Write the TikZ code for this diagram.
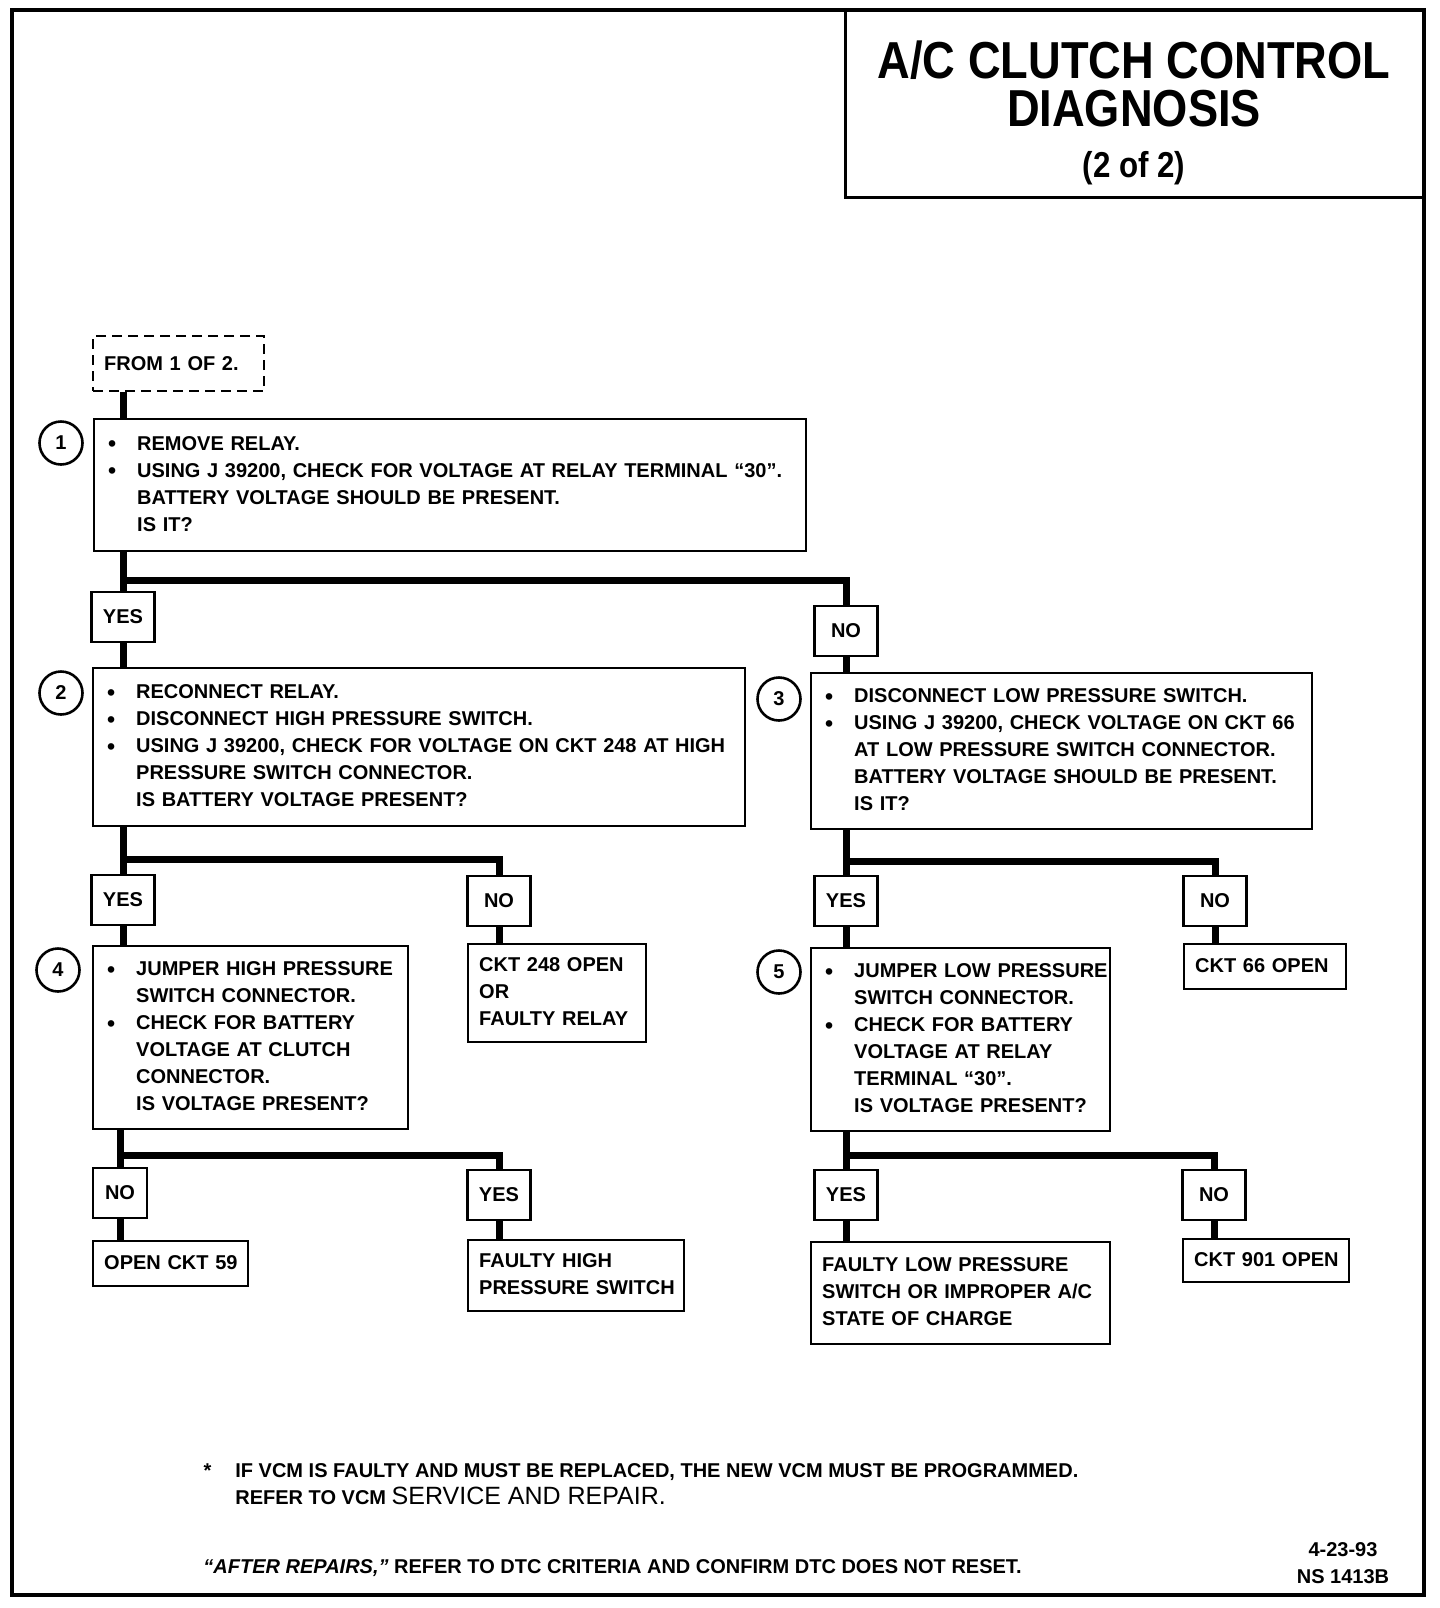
\documentclass[tikz,border=0pt]{standalone}
\usepackage{fontspec}
\setmainfont{Liberation Sans}
\newfontfamily\condfont{Liberation Sans}[FakeStretch=0.87]
\setlength{\parindent}{0pt}

\newcommand{\bodyfont}{\fontsize{10}{13.5}\selectfont\bfseries}
\newcommand{\titlefont}{\fontsize{26}{24}\selectfont\condfont\bfseries}
\newcommand{\subtitlefont}{\fontsize{18}{24}\selectfont\condfont\bfseries}
% lines of a step box, indented past the bullets
\newcommand{\steplines}[1]{\begin{tabular}{@{\hspace{21.5pt}}l@{}}#1\end{tabular}}
\newcommand{\resultlines}[1]{\begin{tabular}{@{}l@{}}#1\end{tabular}}
\newcommand{\bull}{\llap{\raisebox{-0.8pt}{\fontsize{11.5}{11.5}\selectfont\textbullet}\hspace{10.5pt}}}

\tikzset{
  frame/.style={line width=2.2pt},
  titleline/.style={line width=1.5pt},
  stepbox/.style={draw, line width=1.2pt, anchor=north west, inner xsep=0pt, inner ysep=0pt, align=left, font=\bodyfont},
  resultbox/.style={draw, line width=1.2pt, anchor=north west, inner xsep=5.5pt, inner ysep=0pt, align=left, font=\bodyfont},
  answer/.style={draw, line width=1.2pt, minimum width=31.5pt, minimum height=25pt, inner sep=0pt, font=\bodyfont},
  stepnum/.style={circle, draw, line width=1.3pt, minimum size=21.5pt, inner sep=0pt, font=\bodyfont},
  link/.style={line width=3.5pt},
}

\begin{document}
\begin{tikzpicture}[x=0.5pt, y=-0.5pt]
        \useasboundingbox (0,0) rectangle (1440,1608);

        % Frame and title
        \draw[frame] (12,10) rectangle (1424,1595);
        \draw[titleline] (845,10) -- (845,197) -- (1424,197);
        \node at (1134,113) (title) [font=\titlefont, align=center] {A/C CLUTCH CONTROL\\DIAGNOSIS\\[1.5pt]{\subtitlefont (2 of 2)}};

        % Entry
        \node at (92,335) (from) [resultbox, dash pattern=on 5pt off 3pt, text width=74.5pt, minimum height=27.5pt] {FROM 1 OF 2.};

        % Step 1
        \node at (93,418) (S1) [stepbox, text width=356pt, minimum height=66pt] {\steplines{%
          \bull REMOVE RELAY.\\
          \bull USING J 39200, CHECK FOR VOLTAGE AT RELAY TERMINAL “30”.\\
          BATTERY VOLTAGE SHOULD BE PRESENT.\\
          IS IT?}};
        \node at (61,443) (C1) [stepnum] {1};

        \node at (123,617) (Y1) [answer] {YES};
        \node at (846,631) (N1) [answer] {NO};

        % Step 2
        \node at (92,667) (S2) [stepbox, text width=326pt, minimum height=79pt] {\steplines{%
          \bull RECONNECT RELAY.\\
          \bull DISCONNECT HIGH PRESSURE SWITCH.\\
          \bull USING J 39200, CHECK FOR VOLTAGE ON CKT 248 AT HIGH\\
          PRESSURE SWITCH CONNECTOR.\\
          IS BATTERY VOLTAGE PRESENT?}};
        \node at (61,693) (C2) [stepnum] {2};

        % Step 3
        \node at (810,672) (S3) [stepbox, text width=250.5pt, minimum height=78pt] {\steplines{%
          \bull DISCONNECT LOW PRESSURE SWITCH.\\
          \bull USING J 39200, CHECK VOLTAGE ON CKT 66\\
          AT LOW PRESSURE SWITCH CONNECTOR.\\
          BATTERY VOLTAGE SHOULD BE PRESENT.\\
          IS IT?}};
        \node at (779,699) (C3) [stepnum] {3};

        \node at (123,900) (Y2) [answer] {YES};
        \node at (499,901) (N2) [answer] {NO};
        \node at (846,901) (Y3) [answer] {YES};
        \node at (1215,901) (N3) [answer] {NO};

        % Step 4
        \node at (92,945) (S4) [stepbox, text width=157.5pt, minimum height=91.5pt] {\steplines{%
          \bull JUMPER HIGH PRESSURE\\
          SWITCH CONNECTOR.\\
          \bull CHECK FOR BATTERY\\
          VOLTAGE AT CLUTCH\\
          CONNECTOR.\\
          IS VOLTAGE PRESENT?}};
        \node at (58,970) (C4) [stepnum] {4};
        \node at (467,943) (R2) [resultbox, text width=78pt, minimum height=49pt] {\resultlines{CKT 248 OPEN\\OR\\FAULTY RELAY}};

        % Step 5
        \node at (810,947) (S5) [stepbox, text width=149.5pt, minimum height=91.5pt] {\steplines{%
          \bull JUMPER LOW PRESSURE\\
          SWITCH CONNECTOR.\\
          \bull CHECK FOR BATTERY\\
          VOLTAGE AT RELAY\\
          TERMINAL “30”.\\
          IS VOLTAGE PRESENT?}};
        \node at (779,972) (C5) [stepnum] {5};
        \node at (1183,943) (R3) [resultbox, text width=70pt, minimum height=22.5pt] {\resultlines{CKT 66 OPEN}};

        % Last answers
        \node at (120,1193) (N4) [answer, minimum width=27pt] {NO};
        \node at (499,1195) (Y4) [answer] {YES};
        \node at (846,1195) (Y5) [answer] {YES};
        \node at (1214,1195) (N5) [answer] {NO};

        \node at (92,1240) (R4a) [resultbox, text width=66.5pt, minimum height=22.5pt] {\resultlines{OPEN CKT 59}};
        \node at (467,1239) (R4b) [resultbox, text width=97pt, minimum height=35.5pt] {\resultlines{FAULTY HIGH\\PRESSURE SWITCH}};
        \node at (810,1241) (R5a) [resultbox, text width=138.5pt, minimum height=51pt] {\resultlines{FAULTY LOW PRESSURE\\SWITCH OR IMPROPER A/C\\STATE OF CHARGE}};
        \node at (1182,1238) (R5b) [resultbox, text width=72pt, minimum height=21.5pt] {\resultlines{CKT 901 OPEN}};

        % Connectors
        \draw[link] (from.south -| Y1) -- (S1.north -| Y1);
        \draw[link] (S1.south -| Y1) -- (Y1.north);
        \draw[link] (S1.south -| Y1) ++(0,-14pt) -| (N1.north);
        \draw[link] (Y1.south) -- (Y1.south |- S2.north);
        \draw[link] (N1.south) -- (N1.south |- S3.north);

        \draw[link] (S2.south -| Y2) -- (Y2.north);
        \draw[link] (S2.south -| Y2) ++(0,-16pt) -| (N2.north);
        \draw[link] (Y2.south) -- (Y2.south |- S4.north);
        \draw[link] (N2.south) -- (N2.south |- R2.north);

        \draw[link] (S3.south -| Y3) -- (Y3.north);
        \draw[link] (S3.south -| Y3) ++(0,-15.5pt) -| (N3.north);
        \draw[link] (Y3.south) -- (Y3.south |- S5.north);
        \draw[link] (N3.south) -- (N3.south |- R3.north);

        \draw[link] (S4.south -| N4) -- (N4.north);
        \draw[link] (S4.south -| N4) ++(0,-12.5pt) -| (Y4.north);
        \draw[link] (N4.south) -- (N4.south |- R4a.north);
        \draw[link] (Y4.south) -- (Y4.south |- R4b.north);

        \draw[link] (S5.south -| Y5) -- (Y5.north);
        \draw[link] (S5.south -| Y5) ++(0,-11.5pt) -| (N5.north);
        \draw[link] (Y5.south) -- (Y5.south |- R5a.north);
        \draw[link] (N5.south) -- (N5.south |- R5b.north);

        % Notes
        \node at (235,1484) (note) [anchor=west, inner sep=0pt, align=left, font=\bodyfont] {\llap{*\hspace{12pt}}IF VCM IS FAULTY AND MUST BE REPLACED, THE NEW VCM MUST BE PROGRAMMED.\\REFER TO VCM {\fontsize{12.5}{13.5}\selectfont\mdseries SERVICE AND REPAIR.}};
        \node at (203,1568) (after) [anchor=west, inner sep=0pt, font=\bodyfont] {{\itshape “AFTER REPAIRS,”} REFER TO DTC CRITERIA AND CONFIRM DTC DOES NOT RESET.};
        \node at (1343,1563) (stamp) [align=center, font=\bodyfont] {4-23-93\\NS 1413B};
    \end{tikzpicture}
\end{document}
